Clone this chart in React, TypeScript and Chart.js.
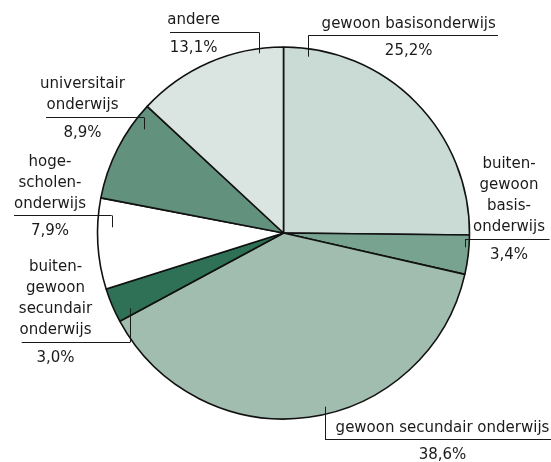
import React, { useEffect, useRef } from "react";
import { Chart, registerables } from "chart.js";

Chart.register(...registerables);

const categories: string[][] = [
  ["gewoon basisonderwijs"],
  ["buiten-", "gewoon", "basis-", "onderwijs"],
  ["gewoon secundair onderwijs"],
  ["buiten-", "gewoon", "secundair", "onderwijs"],
  ["hoge-", "scholen-", "onderwijs"],
  ["universitair", "onderwijs"],
  ["andere"],
];
const shares: number[] = [25.2, 3.4, 38.6, 3.0, 7.9, 8.9, 13.1];
const shareLabels: string[] = ["25,2%", "3,4%", "38,6%", "3,0%", "7,9%", "8,9%", "13,1%"];
const sliceColors: string[] = ["#c9dbd4", "#78a390", "#a0bdaf", "#2e7157", "#ffffff", "#62927e", "#dae4e0"];

// Leader-line layout, as offsets from the pie centre (pixels)
// lineY: horizontal rule, x1..x2: rule extent, tickX: vertical tick x, tickY: tick end, textX: text centre
const leaders = [
  { lineY: -198, x1: 24.8, x2: 214.5, tickX: 24.8, tickY: -176.3, textX: 125.2 },
  { lineY: 5.7, x1: 181.5, x2: 266, tickX: 181.5, tickY: 14.3, textX: 225.5 },
  { lineY: 206.3, x1: 41.5, x2: 268, tickX: 41.5, tickY: 173.7, textX: 159 },
  { lineY: 108.7, x1: -261.8, x2: -153.5, tickX: -153.5, tickY: 75.3, textX: -228 },
  { lineY: -18, x1: -269.5, x2: -171.8, tickX: -171.8, tickY: -5.7, textX: -233.5 },
  { lineY: -116.3, x1: -237.5, x2: -139.5, tickX: -139.5, tickY: -103.7, textX: -201 },
  { lineY: -201.3, x1: -113.5, x2: -24.2, tickX: -24.2, tickY: -179.7, textX: -89.9 },
];

const labelPlugin = {
  id: "leaderLabels",
  afterDraw(chart: any) {
    const meta = chart.getDatasetMeta(0);
    if (!meta || !meta.data.length) return;
    const cx = meta.data[0].x;
    const cy = meta.data[0].y;
    const ctx = chart.ctx;
    ctx.save();
    ctx.strokeStyle = "#1a1a1a";
    ctx.lineWidth = 1;
    ctx.fillStyle = "#1a1a1a";
    ctx.font = "15px 'DejaVu Sans', sans-serif";
    ctx.textAlign = "center";
    ctx.textBaseline = "alphabetic";
    leaders.forEach((l, i) => {
      const ly = Math.round(cy + l.lineY) + 0.5;
      ctx.beginPath();
      ctx.moveTo(cx + l.x1, ly);
      ctx.lineTo(cx + l.x2, ly);
      const tx = Math.round(cx + l.tickX) + 0.5;
      ctx.moveTo(tx, ly);
      ctx.lineTo(tx, cy + l.tickY);
      ctx.stroke();
      const lines = categories[i];
      const n = lines.length;
      lines.forEach((t, k) => {
        const by = cy + l.lineY - 7.5 - (n - 1 - k) * 21;
        ctx.fillText(t, cx + l.textX, by);
      });
      ctx.fillText(shareLabels[i], cx + l.textX, cy + l.lineY + 20);
    });
    ctx.restore();
  },
};

export default function App() {
  const ref = useRef<HTMLCanvasElement | null>(null);
  useEffect(() => {
    document.body.style.margin = "0";
    if (!ref.current) return;
    const chart = new Chart(ref.current, {
      type: "pie",
      data: {
        labels: categories.map((c) => c.join(" ")),
        datasets: [
          {
            data: shares,
            backgroundColor: sliceColors,
            borderColor: "#111111",
            borderWidth: 1.6,
          },
        ],
      },
      options: {
        responsive: false,
        animation: false,
        radius: 186,
        layout: { padding: { left: 16, right: 0, top: 4, bottom: 0 } },
        plugins: {
          legend: { display: false },
          tooltip: { enabled: false },
        },
      } as any,
      plugins: [labelPlugin],
    });
    return () => chart.destroy();
  }, []);
  return (
    <div style={{ width: 551, height: 462, background: "#ffffff" }}>
      <canvas ref={ref} width={551} height={462} style={{ display: "block" }} />
    </div>
  );
}
